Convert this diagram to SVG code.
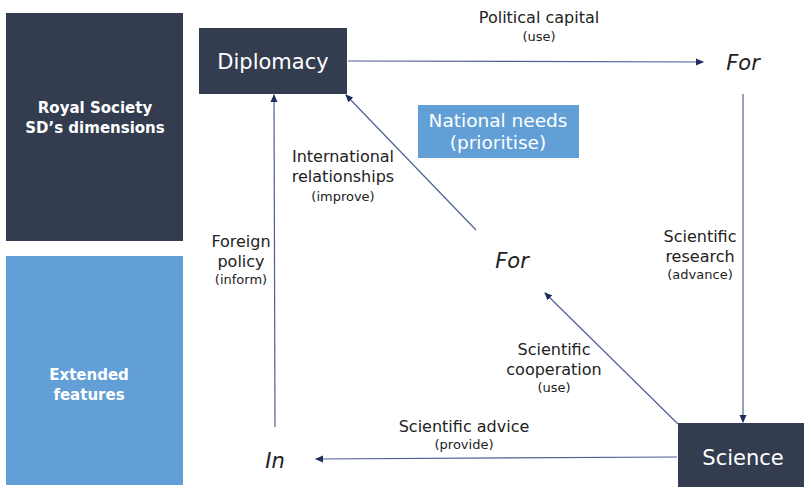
<svg xmlns="http://www.w3.org/2000/svg" width="804" height="487" viewBox="0 0 804 487">
<style>
text{font-family:"DejaVu Sans",sans-serif;fill:#222;text-anchor:middle}
.w{fill:#fff}
.b{font-weight:bold;font-size:15px}
.lab{font-size:16px}
.sm{font-size:13px}
.it{font-style:italic;font-size:21px}
.big{font-size:21px}
.nn{font-size:18.5px}
.dark{fill:#333d4f}
.lite{fill:#629fd6}
.ln{stroke:#4f5f95;stroke-width:1.2;fill:none}
</style>
<defs>
<marker id="ah" markerWidth="8" markerHeight="8" refX="7" refY="4" orient="auto" markerUnits="userSpaceOnUse">
<path d="M0,0.5 L8,4 L0,7.5 Z" fill="#1f2d5c"/>
</marker>
</defs>
<g id="legend-rs">
<rect class="dark" x="6" y="13" width="177" height="228"/>
<text class="w b" x="95" y="113">Royal Society</text>
<text class="w b" x="95" y="133">SD’s dimensions</text>
</g>
<g id="legend-ext">
<rect class="lite" x="6" y="256" width="177" height="229"/>
<text class="w b" x="89" y="380">Extended</text>
<text class="w b" x="89" y="400">features</text>
</g>
<g id="diplomacy">
<rect class="dark" x="199" y="28" width="148" height="66"/>
<text class="w big" x="273" y="69">Diplomacy</text>
</g>
<g id="national-needs">
<rect class="lite" x="418" y="105" width="161" height="53"/>
<text class="w nn" x="498" y="127">National needs</text>
<text class="w nn" x="498" y="149">(prioritise)</text>
</g>
<g id="for-top"><text class="it" x="743" y="70">For</text></g>
<g id="for-mid"><text class="it" x="512" y="268">For</text></g>
<g id="in"><text class="it" x="275" y="468">In</text></g>
<g id="science">
<rect class="dark" x="678" y="423" width="126" height="64"/>
<text class="w big" x="743" y="465">Science</text>
</g>
<g id="connectors">
<line class="ln" x1="348" y1="61" x2="703" y2="62" marker-end="url(#ah)"/>
<line class="ln" x1="743" y1="94" x2="743" y2="422" marker-end="url(#ah)"/>
<line class="ln" x1="678" y1="424" x2="545" y2="293" marker-end="url(#ah)"/>
<line class="ln" x1="476" y1="230" x2="346" y2="95" marker-end="url(#ah)"/>
<line class="ln" x1="677" y1="457" x2="316" y2="459" marker-end="url(#ah)"/>
<line class="ln" x1="275" y1="427" x2="274" y2="95" marker-end="url(#ah)"/>
</g>
<g id="labels">
<text class="lab" x="539" y="23">Political capital</text>
<text class="sm" x="539" y="41">(use)</text>
<text class="lab" x="343" y="162">International</text>
<text class="lab" x="343" y="182">relationships</text>
<text class="sm" x="343" y="201">(improve)</text>
<text class="lab" x="241" y="247">Foreign</text>
<text class="lab" x="241" y="267">policy</text>
<text class="sm" x="241" y="284">(inform)</text>
<text class="lab" x="700" y="242">Scientific</text>
<text class="lab" x="700" y="262">research</text>
<text class="sm" x="700" y="279">(advance)</text>
<text class="lab" x="554" y="355">Scientific</text>
<text class="lab" x="554" y="375">cooperation</text>
<text class="sm" x="554" y="392">(use)</text>
<text class="lab" x="464" y="432">Scientific advice</text>
<text class="sm" x="464" y="449">(provide)</text>
</g>
</svg>
